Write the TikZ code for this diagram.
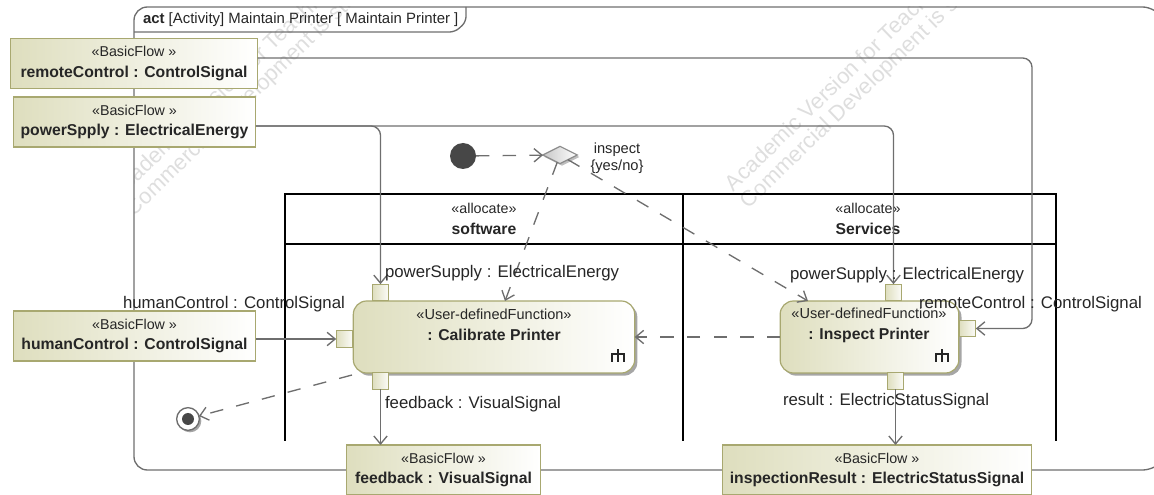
\documentclass[tikz,border=0pt]{standalone}
\usepackage{fontspec}
\setmainfont{Liberation Sans}
\usetikzlibrary{arrows.meta,shadows,shapes.geometric}
\definecolor{umlolive}{HTML}{A8A870}
\definecolor{umlfill}{HTML}{DEDEBE}
\definecolor{umlline}{HTML}{6E6E6E}
\definecolor{umltext}{HTML}{262626}
\newcommand{\boldname}[1]{{\fontsize{11.8}{15.7}\selectfont\bfseries #1}}
\begin{document}
\begin{tikzpicture}[
            x = .75pt, y = -.75pt,
            every node/.style={text=umltext, inner sep=0pt, outer sep=0pt},
            lbl/.style={font=\fontsize{12.6}{14}\selectfont, anchor=west},
            wmark/.style={text=black!13, font=\fontsize{16.5}{20}\selectfont, rotate=44, anchor=west},
            flowbox/.style={draw=umlolive, line width=.9pt, left color=umlfill, right color=white, align=center, font=\fontsize{10.7}{15.7}\selectfont},
            func/.style={flowbox, rounded corners=10pt, drop shadow={shadow xshift=2pt, shadow yshift=-2pt, fill=black!35, opacity=1}},
            port/.style={draw=umlolive, line width=.9pt, left color=umlfill, right color=white!90!umlfill, minimum size=12.5pt},
            flow/.style={draw=umlline, line width=1pt, -{Straight Barb[length=6pt,width=10pt]}, rounded corners=7pt},
            ctrl/.style={flow, dash pattern=on 10pt off 10pt},
            swim/.style={line width=2pt, black},
            ]
        \useasboundingbox (0,0) rectangle (1154,495);

        % watermark
        \begin{scope}
            \clip (134,7) rectangle (1154,470);
            \node[wmark] (wm1) at (730,188) {Academic Version for Teaching Only};
            \node[wmark] (wm2) at (745,205) {Commercial Development is strictly Prohibited};
            \node[wmark] (wm3) at (115,196) {Academic Version for Teaching Only};
            \node[wmark] (wm4) at (130,213) {Commercial Development is strictly Prohibited};
        \end{scope}

        % frame
        \draw[draw=umlline, line width=1pt, rounded corners=10pt] (1160,14) -- (1156,7) -- (134,7) -- (134,470) -- (1156,470) -- (1160,465);
        \draw[draw=umlline, line width=1pt, rounded corners=4pt] (134,32) -- (455,32) -- (466,22) -- (466,7);
        \node[lbl, font=\fontsize{11.2}{14}\selectfont] (title) at (143,20) {\textbf{act} [Activity] Maintain Printer [ Maintain Printer ]};

        % partitions
        \draw[swim] (285,441) -- (285,194) -- (1056,194) -- (1056,441);
        \draw[swim] (285,244) -- (1056,244);
        \draw[swim] (683,194) -- (683,441);
        \node[align=center, font=\fontsize{10.7}{15.7}\selectfont] (software) at (484,219) {«allocate»\\\boldname{software}};
        \node[align=center, font=\fontsize{10.7}{15.7}\selectfont] (services) at (868,219) {«allocate»\\\boldname{Services}};

        % functions and ports
        \node[func, minimum width=211pt, minimum height=54pt] (calibrate) at (494,337) {};
        \node[func, minimum width=134pt, minimum height=54pt] (inspect) at (869.5,337) {};
        \node[align=center, font=\fontsize{10.9}{15.7}\selectfont] (calibrateText) at (494,325) {«User-definedFunction»\\\boldname{: Calibrate Printer}};
        \node[align=center, font=\fontsize{10.9}{15.7}\selectfont] (inspectText) at (869,325) {«User-definedFunction»\\\boldname{: Inspect Printer}};
        \node[port] (calPower) at (380.5,292.5) {};
        \node[port] (calHuman) at (344.5,339) {};
        \node[port] (calFeedback) at (380.5,381) {};
        \node[port] (insPower) at (893.5,292.5) {};
        \node[port] (insRemote) at (967.5,328.5) {};
        \node[port] (insResult) at (895.5,381) {};

        % block icons
        \draw[line width=1.2pt, umltext] (618,362) -- (618,349) (612,362) -- (612,354) -- (624,354) -- (624,362);
        \draw[line width=1.2pt, umltext] (942,362) -- (942,349) (936,362) -- (936,354) -- (948,354) -- (948,362);

        % flow boxes
        \node[flowbox, minimum width=185.5pt, minimum height=37.5pt] (remoteControl) at (134,63.5) {«BasicFlow »\\\boldname{remoteControl : ControlSignal}};
        \node[flowbox, minimum width=182pt, minimum height=37.5pt] (powerSpply) at (134.5,122) {«BasicFlow »\\\boldname{powerSpply : ElectricalEnergy}};
        \node[flowbox, minimum width=182pt, minimum height=37.5pt] (humanControl) at (134.5,336) {«BasicFlow »\\\boldname{humanControl : ControlSignal}};
        \node[flowbox, minimum width=146pt, minimum height=37.5pt] (feedback) at (443.5,470) {«BasicFlow »\\\boldname{feedback : VisualSignal}};
        \node[flowbox, minimum width=232pt, minimum height=37.5pt] (inspectionResult) at (877,470) {«BasicFlow »\\\boldname{inspectionResult : ElectricStatusSignal}};

        % control nodes
        \node[circle, fill=umltext!85, minimum size=19.5pt] (start) at (463,156) {};
        \node[diamond, aspect=2, draw=black!45, line width=.9pt, left color=black!22, right color=white, minimum width=26pt, minimum height=13pt, drop shadow={shadow xshift=1.5pt, shadow yshift=-1.5pt, fill=black!25, opacity=1}] (decision) at (560,155) {};
        \node[circle, draw=umlline, line width=1pt, fill=white, minimum size=17pt, drop shadow={shadow xshift=1.5pt, shadow yshift=-1.5pt, fill=black!35, opacity=1}] (stop) at (188,419) {};
        \node[circle, fill=umltext!85, minimum size=9pt] (stopDot) at (188,419) {};

        % object flows
        \coordinate (powerTap) at (300,126);
        \coordinate (remoteTap) at (1032,58);
        \coordinate (calEntry) at (505,301);
        \coordinate (insEntry) at (808,301);
        \coordinate (calExit) at (352,375);
        \draw[flow] (remoteControl.east |- remoteTap) -- (remoteTap) |- (insRemote.east);
        \draw[flow] (powerSpply.east |- powerTap) -| (calPower.north);
        \draw[flow] (powerSpply.east |- powerTap) -| (insPower.north);
        \draw[flow] (humanControl.east |- calHuman) -- (calHuman.west);
        \draw[flow] (calFeedback.south) -- (feedback.north -| calFeedback);
        \draw[flow] (insResult.south) -- (inspectionResult.north -| insResult);

        % control flows
        \draw[ctrl] (start) -- (decision);
        \draw[ctrl] (decision) -- (calEntry);
        \draw[ctrl] (decision) -- (insEntry);
        \draw[ctrl] (inspect.west) -- (calibrate.east);
        \draw[ctrl] (calExit) -- (stop);

        % pin labels
        \node[lbl] (lblCalPower) at (385,273) {powerSupply : ElectricalEnergy};
        \node[lbl] (lblHuman) at (123,304) {humanControl : ControlSignal};
        \node[lbl] (lblFeedback) at (385,404) {feedback : VisualSignal};
        \node[lbl] (lblInsPower) at (790,275) {powerSupply : ElectricalEnergy};
        \node[lbl] (lblRemote) at (919,304) {remoteControl : ControlSignal};
        \node[lbl] (lblResult) at (783,401) {result : ElectricStatusSignal};
        \node[align=center, font=\fontsize{11}{12.5}\selectfont] (lblDecision) at (617,158) {inspect\\\{yes/no\}};
    \end{tikzpicture}
\end{document}
